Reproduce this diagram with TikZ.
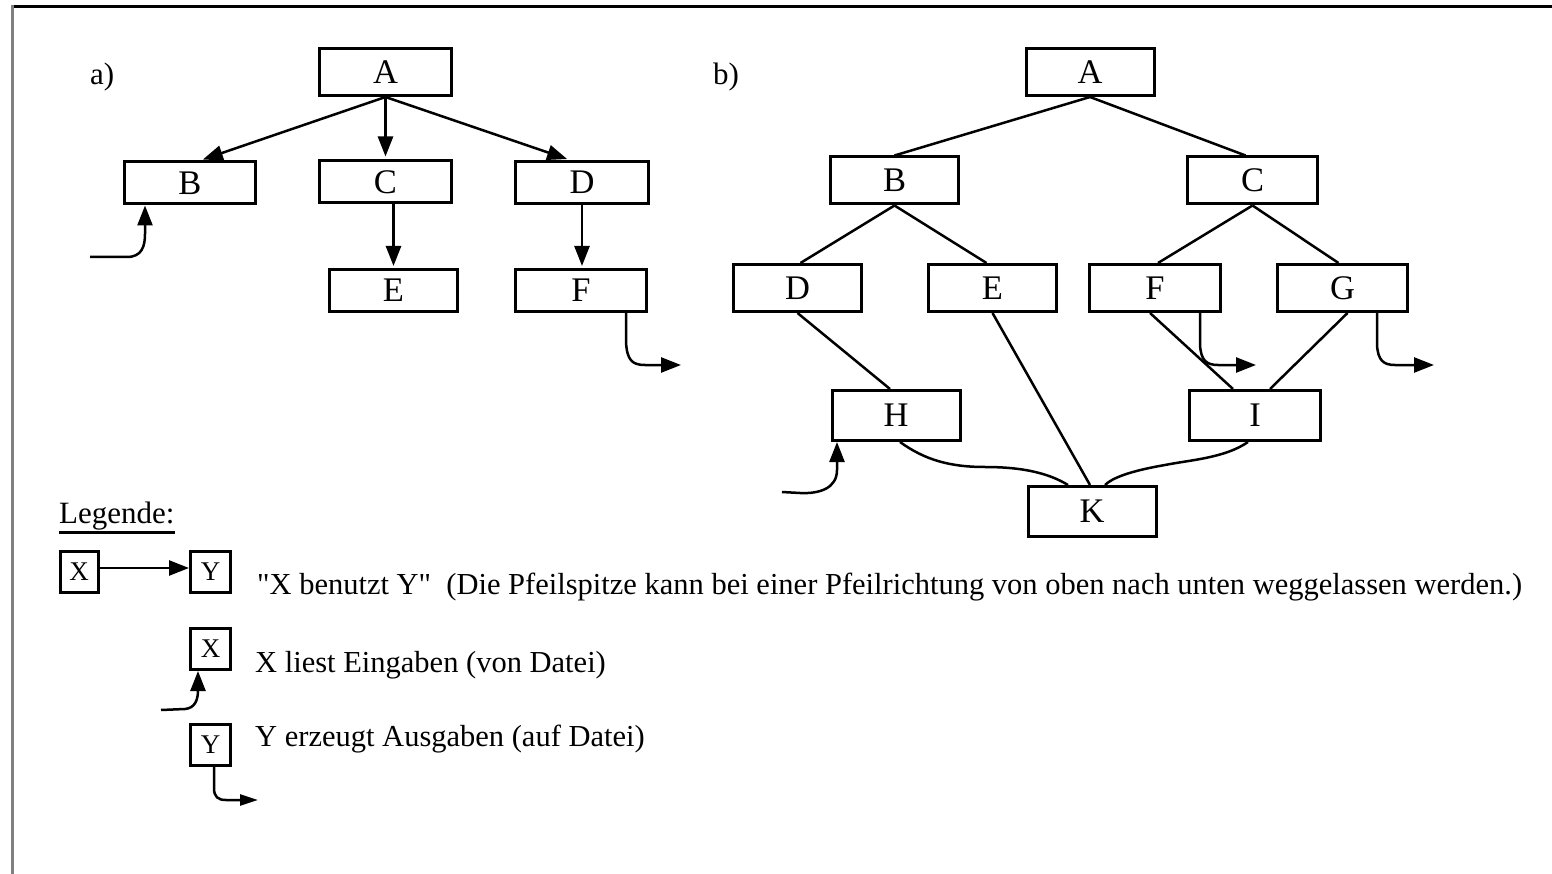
\documentclass[tikz,border=0pt]{standalone}
\usepackage{fontspec}
\setmainfont{Liberation Serif}[Ligatures=TeXOff]
\usetikzlibrary{arrows.meta,calc}
\begin{document}
\begin{tikzpicture}[x=1pt,y=-1pt,
  abox/.style={draw, line width=3pt, inner sep=0pt, minimum width=131pt, minimum height=42pt, font=\fontsize{34.5}{40}\selectfont},
  bbox/.style={draw, line width=3pt, inner sep=0pt, minimum width=128pt, minimum height=47pt, font=\fontsize{34.5}{40}\selectfont},
  lbox/.style={draw, line width=3pt, inner sep=0pt, minimum width=38pt, minimum height=41pt, font=\fontsize{27}{30}\selectfont},
  lbl/.style={anchor=base west, inner sep=0pt, font=\fontsize{30.5}{34}\selectfont},
  conn/.style={line width=2.5pt},
  arr/.style={conn, -{Triangle[length=20pt,width=15pt]}},
  sarr/.style={conn, -{Triangle[length=18pt,width=11pt]}}
]
\useasboundingbox (0,0) rectangle (1552,874);
% frame
\draw[line width=3pt] (11,6.5) -- (1552,6.5);
\draw[line width=3pt, color=black!50] (12.5,5) -- (12.5,874);

% ---------- panel a ----------
\node[lbl, font=\fontsize{31}{34}\selectfont] (la) at (90,85) {a)};
\node[abox, minimum width=132pt, minimum height=47pt] (aA) at (385.5,72) {A};
\node[abox] (aB) at (190,183) {B};
\node[abox, minimum width=132pt] (aC) at (385.5,182) {C};
\node[abox, minimum width=133pt] (aD) at (582,182.5) {D};
\node[abox, minimum width=128pt] (aE) at (393.5,290.5) {E};
\node[abox] (aF) at (581,290.5) {F};

\draw[arr, shorten >=3pt] (aA.south) -- ([xshift=10pt]aB.north);
\draw[arr, shorten >=3pt] (aA.south) -- (aC.north);
\draw[arr, shorten >=3pt] (aA.south) -- ([xshift=-12pt]aD.north);
\draw[arr, shorten >=2pt] (aC.south -| aE.north) -- (aE.north);
\draw[arr, shorten >=2pt] (aD.south) -- (aD.south |- aF.north);

\coordinate (inB) at (90,257);
\draw[arr] (inB) -- (127,257) .. controls (142,257) and (145,246) .. (145,234) -- ([xshift=-45pt]aB.south);
\coordinate (outF) at (681,365);
\draw[arr] ([xshift=45pt]aF.south) -- (626,342) .. controls (627,360) and (632,365) .. (645,365) -- (outF);

% ---------- panel b ----------
\node[lbl, font=\fontsize{31}{34}\selectfont] (lb) at (713,85) {b)};
\node[bbox] (bA) at (1090,72) {A};
\node[bbox] (bB) at (894.5,180.5) {B};
\node[bbox, minimum width=130pt] (bC) at (1252.5,180.5) {C};
\node[bbox] (bD) at (797.5,288) {D};
\node[bbox] (bE) at (992.5,288) {E};
\node[bbox, minimum width=131pt] (bF) at (1155,288) {F};
\node[bbox, minimum width=130pt] (bG) at (1342.5,288) {G};
\node[bbox, minimum height=50pt] (bH) at (896,415.5) {H};
\node[bbox, minimum width=131pt, minimum height=50pt] (bI) at (1255,415.5) {I};
\node[bbox, minimum height=50pt] (bK) at (1092,511.5) {K};

\draw[conn] (bA.south) -- (bB.north);
\draw[conn] (bA.south) -- ([xshift=-7pt]bC.north);
\draw[conn] (bB.south) -- ([xshift=3pt]bD.north);
\draw[conn] (bB.south) -- ([xshift=-6pt]bE.north);
\draw[conn] (bC.south) -- ([xshift=3pt]bF.north);
\draw[conn] (bC.south) -- ([xshift=-4pt]bG.north);
\draw[conn] (bD.south) -- ([xshift=-6pt]bH.north);
\draw[conn] (bE.south) -- ([xshift=-2pt]bK.north);
\draw[conn] ([xshift=-5pt]bF.south) -- ([xshift=-22pt]bI.north);
\draw[conn] ([xshift=5pt]bG.south) -- ([xshift=15pt]bI.north);
\draw[conn] ([xshift=4pt]bH.south) .. controls (925,460) and (950,467) .. (985,467) .. controls (1025,467) and (1050,474) .. ([xshift=-24pt]bK.north);
\draw[conn] ([xshift=-7pt]bI.south) .. controls (1225,458) and (1190,460) .. (1165,465) .. controls (1130,471) and (1112,478) .. ([xshift=13pt]bK.north);

\coordinate (outbF) at (1256,365);
\draw[arr] ([xshift=45pt]bF.south) -- (1200,345) .. controls (1201,360) and (1206,365) .. (1218,365) -- (outbF);
\coordinate (outbG) at (1434,365);
\draw[arr] ([xshift=34.5pt]bG.south) -- (1377,345) .. controls (1378,360) and (1383,365) .. (1395,365) -- (outbG);
\coordinate (inH) at (782,492);
\draw[arr] (inH) -- (800,493) .. controls (820,494) and (837,488) .. (837,470) -- ([xshift=-59pt]bH.south);

% ---------- legend ----------
\node[lbl, font=\fontsize{31}{34}\selectfont] (leg) at (59,523) {Legende:};
\draw[line width=2.5pt] ([yshift=-2.5pt]leg.south west) -- ([yshift=-2.5pt]leg.south east);

\node[lbox] (lX1) at (79,572) {X};
\node[lbox, minimum width=40pt] (lY1) at (210.5,572) {Y};
\node[lbox, minimum width=40pt] (lX2) at (210.5,649) {X};
\node[lbox, minimum width=40pt] (lY3) at (210.5,745) {Y};

\draw[arr] ([yshift=4pt]lX1.east) -- ([yshift=4pt]lY1.west);
\coordinate (inX) at (161,710);
\draw[arr] (inX) -- (185,709) .. controls (195,708) and (198,700) .. (198,690) -- ([xshift=-12.5pt]lX2.south);
\coordinate (outY) at (258,800);
\draw[sarr] ([xshift=3.5pt]lY3.south) -- (214,788) .. controls (214,797) and (218,800) .. (226,800) -- (outY);

\node[lbl] (t1) at (257,594) {"X benutzt Y"~~(Die Pfeilspitze kann bei einer Pfeilrichtung von oben nach unten weggelassen werden.)};
\node[lbl] (t2) at (255,672) {X liest Eingaben (von Datei)};
\node[lbl] (t3) at (255,746) {Y erzeugt Ausgaben (auf Datei)};
\end{tikzpicture}
\end{document}
